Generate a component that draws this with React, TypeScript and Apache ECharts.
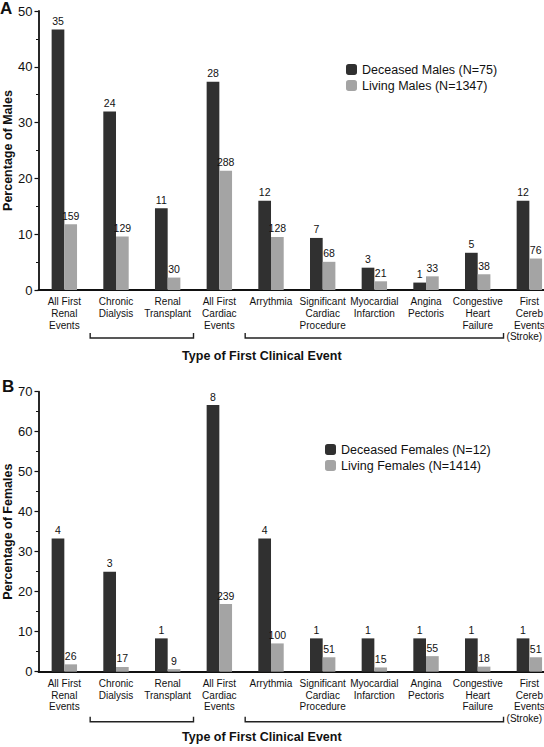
import React, { useEffect, useRef } from "react";
import * as echarts from "echarts";

const categories = [
  "All First\nRenal\nEvents",
  "Chronic\nDialysis",
  "Renal\nTransplant",
  "All First\nCardiac\nEvents",
  "Arrythmia",
  "Significant\nCardiac\nProcedure",
  "Myocardial\nInfarction",
  "Angina\nPectoris",
  "Congestive\nHeart\nFailure",
  "First\nCereb\nEvents\n(Stroke)",
];

const maleDeceasedPct = [46.67, 32.0, 14.67, 37.33, 16.0, 9.33, 4.0, 1.33, 6.67, 16.0];
const maleDeceasedN = [35, 24, 11, 28, 12, 7, 3, 1, 5, 12];
const maleLivingPct = [11.8, 9.58, 2.23, 21.38, 9.5, 5.05, 1.56, 2.45, 2.82, 5.64];
const maleLivingN = [159, 129, 30, 288, 128, 68, 21, 33, 38, 76];

const femaleDeceasedPct = [33.33, 25.0, 8.33, 66.67, 33.33, 8.33, 8.33, 8.33, 8.33, 8.33];
const femaleDeceasedN = [4, 3, 1, 8, 4, 1, 1, 1, 1, 1];
const femaleLivingPct = [1.84, 1.2, 0.64, 16.9, 7.07, 3.61, 1.06, 3.89, 1.27, 3.61];
const femaleLivingN = [26, 17, 9, 239, 100, 51, 15, 55, 18, 51];

const maleYTicks = { min: 0, max: 50, interval: 10 };
const femaleYTicks = { min: 0, max: 70, interval: 10 };

// bracket groups (category index ranges)
const brackets = [
  [1, 2],
  [4, 8],
];

const DARK = "#303030";
const LIGHT = "#a4a4a4";
const SANS = "'Liberation Sans', Arial, sans-serif";

function barSeries(name: string, data: number[], counts: number[], color: string, axis: number) {
  return {
    type: "bar",
    name,
    data,
    xAxisIndex: axis,
    yAxisIndex: axis,
    barWidth: 12.7,
    barGap: "0%",
    itemStyle: { color },
    label: {
      show: true,
      position: "top",
      distance: 3,
      color: "#111",
      fontFamily: SANS,
      fontSize: 10.5,
      formatter: (p: any) => String(counts[p.dataIndex]),
    },
  };
}

function xAxisCfg(grid: number) {
  return {
    type: "category",
    gridIndex: grid,
    data: categories,
    axisLine: { lineStyle: { color: "#111", width: 1.8 } },
    axisTick: { show: false },
    axisLabel: {
      interval: 0,
      margin: 6,
      color: "#111",
      fontFamily: SANS,
      fontSize: 10,
      lineHeight: 11.7,
      formatter: (v: string) => v.replace("(Stroke)", "{s|(Stroke)}"),
      rich: {
        s: { fontFamily: SANS, fontSize: 10, lineHeight: 11.7, color: "#111", padding: [0, 10, 0, 0] },
      },
    },
    name: "Type of First Clinical Event",
    nameLocation: "middle",
    nameGap: 59,
    nameMoveOverlap: false,
    nameTextStyle: {
      fontFamily: SANS,
      fontWeight: "bold",
      fontSize: 12.5,
      color: "#111",
      padding: [0, 70, 0, 0],
    },
  };
}

function yAxisCfg(grid: number, ticks: any, name: string) {
  return {
    type: "value",
    gridIndex: grid,
    min: ticks.min,
    max: ticks.max,
    interval: ticks.interval,
    axisLine: { show: true, lineStyle: { color: "#111", width: 1.8 } },
    axisTick: { show: true, length: 4, lineStyle: { color: "#111", width: 1.2 } },
    minorTick: { show: true, splitNumber: 2, length: 2.5, lineStyle: { color: "#111", width: 1 } },
    splitLine: { show: false },
    axisLabel: { color: "#111", fontFamily: SANS, fontSize: 13, margin: 6 },
    name,
    nameLocation: "middle",
    nameGap: 24,
    nameMoveOverlap: false,
    nameTextStyle: { fontFamily: SANS, fontWeight: "bold", fontSize: 12.5, color: "#111" },
  };
}

export default function App() {
  const ref = useRef<HTMLDivElement>(null);
  useEffect(() => {
    if (!ref.current) return;
    const chart = echarts.init(ref.current, undefined, { renderer: "svg" });
    chart.setOption({
      animation: false,
      backgroundColor: "#fff",
      title: [
        { text: "A", left: 0, top: 0, padding: 0, textStyle: { fontFamily: SANS, fontWeight: "bold", fontSize: 17, color: "#111" } },
        { text: "B", left: 2, top: 378, padding: 0, textStyle: { fontFamily: SANS, fontWeight: "bold", fontSize: 17, color: "#111" } },
      ],
      legend: [
        {
          orient: "vertical",
          left: 346,
          top: 63,
          itemWidth: 11,
          itemHeight: 11,
          itemGap: 3,
          padding: 0,
          data: ["Deceased Males (N=75)", "Living Males (N=1347)"],
          textStyle: { fontFamily: SANS, fontSize: 12.5, color: "#111" },
        },
        {
          orient: "vertical",
          left: 325,
          top: 443,
          itemWidth: 11,
          itemHeight: 11,
          itemGap: 3,
          padding: 0,
          data: ["Deceased Females (N=12)", "Living Females (N=1414)"],
          textStyle: { fontFamily: SANS, fontSize: 12.5, color: "#111" },
        },
      ],
      grid: [
        { left: 38.5, width: 516.7, top: 11, height: 279, outerBoundsMode: "none", containLabel: false },
        { left: 38.5, width: 516.7, top: 391.7, height: 280, outerBoundsMode: "none", containLabel: false },
      ],
      xAxis: [xAxisCfg(0), xAxisCfg(1)],
      yAxis: [
        yAxisCfg(0, maleYTicks, "Percentage of Males"),
        yAxisCfg(1, femaleYTicks, "Percentage of Females"),
      ],
      series: [
        barSeries("Deceased Males (N=75)", maleDeceasedPct, maleDeceasedN, DARK, 0),
        barSeries("Living Males (N=1347)", maleLivingPct, maleLivingN, LIGHT, 0),
        barSeries("Deceased Females (N=12)", femaleDeceasedPct, femaleDeceasedN, DARK, 1),
        barSeries("Living Females (N=1414)", femaleLivingPct, femaleLivingN, LIGHT, 1),
      ],
    });

    const graphics: any[] = [];
    [0, 1].forEach((g) => {
      const c0 = chart.convertToPixel({ xAxisIndex: g }, 0) as number;
      const c1 = chart.convertToPixel({ xAxisIndex: g }, 1) as number;
      const band = c1 - c0;
      const yBase = (chart.convertToPixel({ yAxisIndex: g }, 0) as number) + 48 + g * 2;
      brackets.forEach(([a, b]) => {
        const xl = (chart.convertToPixel({ xAxisIndex: g }, a) as number) - band / 2;
        const xr = (chart.convertToPixel({ xAxisIndex: g }, b) as number) + band / 2;
        graphics.push({
          type: "polyline",
          shape: { points: [[xl, yBase - 5], [xl, yBase], [xr, yBase], [xr, yBase - 5]] },
          style: { stroke: "#222", lineWidth: 1.4, fill: null },
        });
      });
    });
    chart.setOption({ graphic: graphics });

    return () => chart.dispose();
  }, []);
  return <div ref={ref} style={{ position: "absolute", left: 0, top: 0, width: 544, height: 747 }} />;
}
